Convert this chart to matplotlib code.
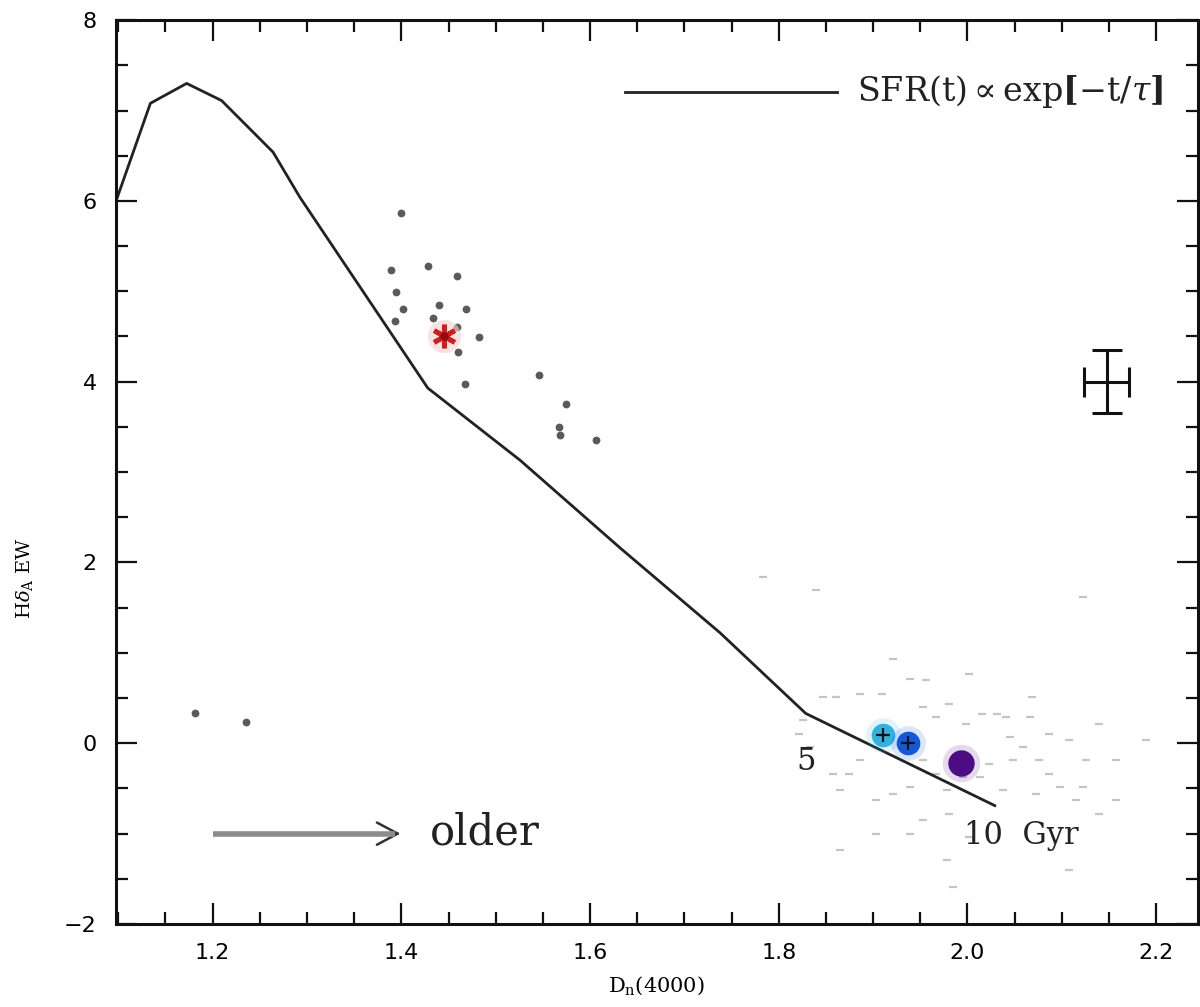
import matplotlib
matplotlib.use("Agg")
import matplotlib.pyplot as plt
from matplotlib.ticker import MultipleLocator, FormatStrFormatter, FuncFormatter

plt.rcParams['font.family'] = ['DejaVu Serif']
plt.rcParams['mathtext.fontset'] = 'dejavuserif'

# Exponentially declining SFR model track: Dn(4000) vs H-delta_A
track_dn = [1.099, 1.134, 1.1725, 1.2095, 1.264, 1.2925, 1.428,
            1.526, 1.632, 1.738, 1.8286, 2.029]
track_hd = [6.04, 7.08, 7.30, 7.11, 6.54, 6.04, 3.93,
            3.13, 2.16, 1.22, 0.33, -0.69]

# Young galaxy sample
young_dn = [1.3995, 1.3889, 1.4278, 1.4585, 1.3942, 1.4013, 1.4397, 1.4683, 1.3931,
            1.4337, 1.4591, 1.4824, 1.4602, 1.4673, 1.5460, 1.5750, 1.5672, 1.5682,
            1.6060, 1.1813, 1.2353]
young_hd = [5.87, 5.24, 5.28, 5.17, 4.99, 4.80, 4.85, 4.80, 4.67,
            4.70, 4.61, 4.49, 4.33, 3.98, 4.07, 3.75, 3.50, 3.41,
            3.36, 0.34, 0.23]

# Young sample median
young_med_dn = 1.445
young_med_hd = 4.50

# Old galaxy background sample
old_dn = [1.840, 1.921, 1.939, 1.956, 1.981, 1.999, 2.016, 2.031, 2.041, 2.066,
          2.087, 2.108, 2.140, 2.189, 2.126, 2.076, 2.048, 2.023, 2.013, 1.995,
          1.978, 1.967, 1.953, 1.939, 1.921, 1.903, 1.886, 1.875, 1.865, 1.858,
          1.833, 1.822, 1.826, 1.847, 1.861, 1.886, 1.910, 1.967, 1.953, 2.045,
          2.059, 2.038, 2.073, 2.098, 2.122, 2.115, 2.087, 2.158, 2.140, 2.158,
          1.981, 1.953, 1.939, 1.903, 2.002, 1.978, 1.985, 2.108, 1.865, 1.783,
          2.122, 2.002, 2.069]
old_hd = [1.69, 0.937, 0.715, 0.697, 0.439, 0.218, 0.328, 0.328, 0.291, 0.291,
          0.107, 0.033, 0.218, 0.033, -0.188, -0.188, -0.188, -0.225, -0.372, -0.372,
          -0.520, -0.336, -0.188, -0.483, -0.557, -0.631, -0.188, -0.336, -0.520, -0.336,
          -0.041, 0.107, 0.254, 0.512, 0.512, 0.549, 0.549, 0.291, 0.402, 0.070,
          -0.041, -0.520, -0.557, -0.483, -0.483, -0.631, -0.336, -0.631, -0.778, -0.188,
          -0.778, -0.852, -1.000, -1.000, -1.036, -1.294, -1.589, -1.405, -1.184, 1.840,
          1.619, 0.771, 0.512]

# Stacked old sub-samples
stack_dn = [1.9104, 1.9369, 1.9927]
stack_hd = [0.09, 0.003, -0.22]
stack_colors = ['#2fb4e2', '#1258dc', '#4d0c84']
stack_sizes = [17, 17, 19]
stack_plus = [True, True, False]

# Typical uncertainty
err_dn, err_hd = 2.1475, 4.0
err_xerr, err_yerr = 0.024, 0.35

fig = plt.figure(figsize=(12, 10.07), dpi=100)
ax = fig.add_axes([0.0967, 0.0824, 0.9013, 0.8976])

ax.plot(old_dn, old_hd, '_', ms=6, mew=1.6, color='#c4c4c4', zorder=1)
ax.plot(track_dn, track_hd, '-', color='#222222', lw=2.0, zorder=2)
ax.plot(young_dn, young_hd, 'o', ms=5.6, color='#5a5a5a', mec='none', zorder=3)
ax.plot(young_med_dn, young_med_hd, 'o', ms=24, color='#f6d0d0', mec='none',
        alpha=0.6, zorder=3.5)
ax.plot(young_med_dn, young_med_hd, marker=(6, 2, 0), ms=17, mew=3.4,
        color='#d41c1c', ls='none', zorder=4)
ax.plot(young_med_dn, young_med_hd, 'o', ms=6, color='#8a1010', mec='none', zorder=4)

for dn, hd, c, s, p in zip(stack_dn, stack_hd, stack_colors, stack_sizes, stack_plus):
    ax.plot(dn, hd, 'o', ms=s + 8, color=c, mec='none', alpha=0.15, zorder=5)
    ax.plot(dn, hd, 'o', ms=s, color=c, mec='none', zorder=5)
    if p:
        ax.plot(dn, hd, '+', ms=10, mew=1.6, color='#111111', zorder=6)

ax.errorbar(err_dn, err_hd, xerr=err_xerr, yerr=err_yerr, fmt='none',
            ecolor='#111111', elinewidth=2.2, capsize=11, capthick=2.2)

# legend line and label
ax.plot([1.637, 1.862], [7.21, 7.21], '-', color='#222222', lw=2.0)
ax.text(1.883, 7.21, r'SFR(t)$\propto$exp$\mathbf{[}$$-$t/$\tau$$\mathbf{]}$',
        fontsize=24, va='center', ha='left', color='#222222')

# age labels
ax.text(1.829, -0.2, '5', fontsize=22, ha='center', va='center', color='#222222')
ax.text(1.996, -1.02, '10  Gyr', fontsize=22, ha='left', va='center', color='#222222')

# direction of ageing
ax.annotate('', xy=(1.399, -1.0), xytext=(1.30, -1.0),
            arrowprops=dict(arrowstyle='->,head_length=1.5,head_width=0.8',
                            color='#333333', lw=1.8, shrinkA=0, shrinkB=0))
ax.plot([1.2, 1.393], [-1.0, -1.0], '-', color='#8c8c8c', lw=4, solid_capstyle='butt',
        zorder=7)
ax.text(1.430, -0.99, 'older', fontsize=30, ha='left', va='center', color='#222222')

ax.set_xlim(1.0976, 2.244)
ax.set_ylim(-2.0, 8.0)
ax.xaxis.set_major_locator(MultipleLocator(0.2))
ax.xaxis.set_minor_locator(MultipleLocator(0.05))
ax.yaxis.set_major_locator(MultipleLocator(2))
ax.yaxis.set_minor_locator(MultipleLocator(0.5))
ax.xaxis.set_major_formatter(FormatStrFormatter('%.1f'))
ax.yaxis.set_major_formatter(FuncFormatter(
    lambda v, p: f'{int(round(v))}'.replace('-', '\u2212')))

ax.tick_params(which='both', direction='in', top=True, right=True, width=1.6,
               color='#111111')
ax.tick_params(which='major', length=15, labelsize=16, pad=14)
ax.tick_params(which='minor', length=8.5)
for lab in ax.get_xticklabels() + ax.get_yticklabels():
    lab.set_family('DejaVu Sans')
for sp in ax.spines.values():
    sp.set_linewidth(2.2)
    sp.set_color('#111111')

ax.set_xlabel(r'D$_{\rm n}$(4000)', fontsize=15, labelpad=8)
ax.set_ylabel(r'H$\delta_{\rm A}$ EW', fontsize=14)
ax.yaxis.set_label_coords(-0.075, 0.383)

fig.savefig('out.png', dpi=100)
